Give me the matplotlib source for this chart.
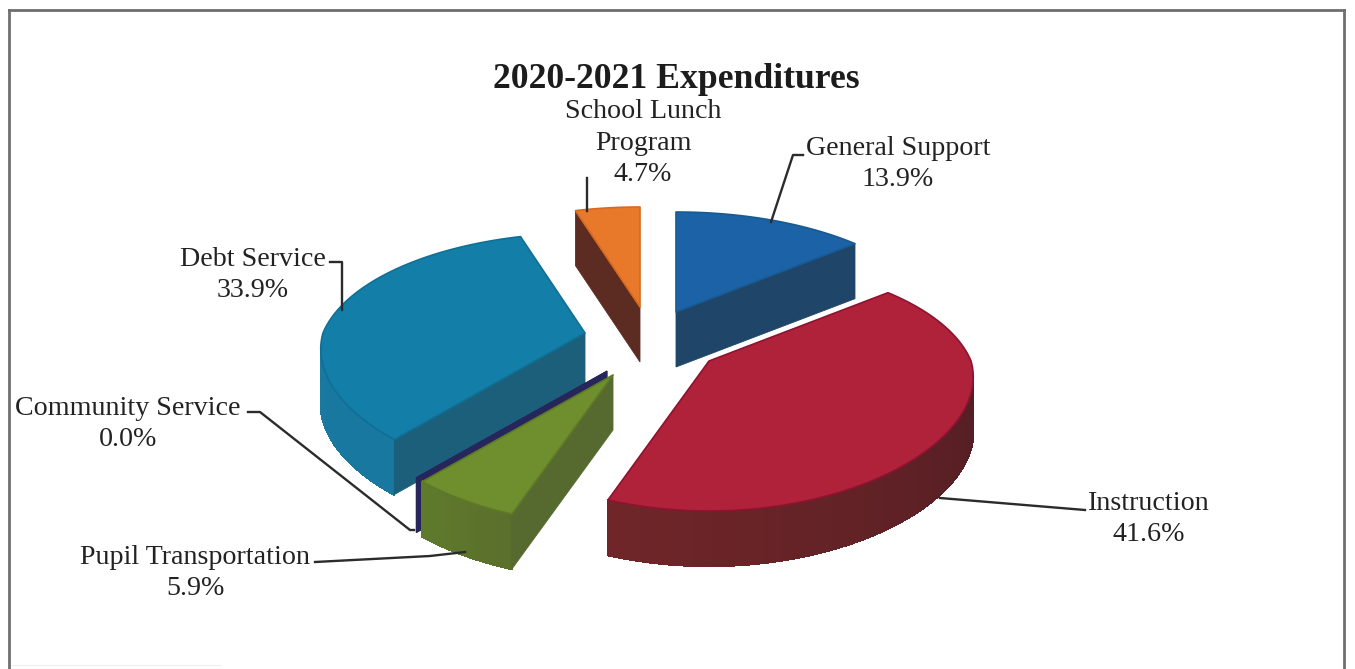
import numpy as np
import matplotlib
matplotlib.use("Agg")
import matplotlib.pyplot as plt

# chart data, clockwise from 12 o'clock
labels = ["General Support", "Instruction", "Pupil Transportation", "Community Service", "Debt Service", "School Lunch\nProgram"]
values = [13.9, 41.6, 5.9, 0.0, 33.9, 4.7]
title = "2020-2021 Expenditures"

# colours: top, radial cut face, rim start, rim end
top_colors = ["#1b63a6", "#b0213a", "#6f8e2d", "#2a2a6a", "#137fa8", "#e8792b"]
edge_colors = ["#175a94", "#8f1230", "#5d7a26", "#20205a", "#0f6f95", "#d8691f"]
cut_colors = ["#1f4568", "#5a2026", "#56692e", "#26265c", "#1b5f7b", "#5c2c22"]
rim_a = ["#1f4568", "#702629", "#5f7a2c", "#26265c", "#1a7a9f", "#5c2c22"]
rim_b = ["#1f4568", "#451a20", "#5a6f2c", "#26265c", "#1878a0", "#5c2c22"]

# layout, in picture pixels
W, H = 1355, 669
center = (640, 340)
explode_dx = [36, 69, -27, -33, -55, 0]
explode_dy = [-28, 21, 35, 31, -7, -33]
R, RK, TILT_BACK, TILT_FRONT, TILT_Y, DEPTH = 262, 120, 0.19, 0.13, 0.2, 55
draw_order = [0, 5, 4, 3, 2, 1]

label_xy = [(898, 164), (1149, 519), (195, 573), (128, 424), (253, 275), (643, 143)]
leaders = [
    [(803, 155), (793, 155), (771, 222)],
    [(1085, 510), (940, 498)],
    [(315, 562), (430, 556), (465, 552)],
    [(248, 412), (260, 412), (410, 530), (414, 530)],
    [(330, 262), (342, 262), (342, 310)],
    [(587, 178), (587, 211)],
]

plt.rcParams["font.family"] = ["Liberation Serif", "DejaVu Serif"]
fig = plt.figure(figsize=(W / 100, H / 100), dpi=100)
ax = fig.add_axes([0, 0, 1, 1])
ax.set_xlim(0, W)
ax.set_ylim(H, 0)
ax.axis("off")


def rim_points(theta, apex):
    # tilted disc with a bit of perspective, theta in radians clockwise from top
    tilt_x = np.where(np.cos(theta) > 0, TILT_BACK, TILT_FRONT)
    x = R * np.sin(theta) / (1 + tilt_x * np.cos(theta))
    y = RK * np.cos(theta) / (1 + TILT_Y * np.cos(theta))
    return apex[0] + x, apex[1] - y


def mix(c1, c2, t):
    a = np.array(matplotlib.colors.to_rgb(c1))
    b = np.array(matplotlib.colors.to_rgb(c2))
    return a + (b - a) * t


def signed_area(xs, ys):
    return 0.5 * np.sum(np.array(xs) * np.roll(ys, -1) - np.roll(xs, -1) * np.array(ys))


def draw_slice(i, start, stop):
    apex = (center[0] + explode_dx[i], center[1] + explode_dy[i])
    n = max(2, int(abs(stop - start) * 0.8) + 2)
    th = np.radians(np.linspace(start, stop, n))
    xs, ys = rim_points(th, apex)
    z = draw_order.index(i) * 3

    # outer wall, only the quads that face us
    for k in range(n - 1):
        qx = [xs[k], xs[k + 1], xs[k + 1], xs[k]]
        qy = [ys[k], ys[k + 1], ys[k + 1] + DEPTH, ys[k] + DEPTH]
        if signed_area(qx, qy) < 0:
            # shade goes from rim_b on the right to rim_a at the slice end
            c = mix(rim_b[i], rim_a[i], k / max(1, n - 2))
            ax.fill(qx, qy, color=c, lw=1.0, antialiased=False, zorder=z + 1)

    # two radial cut faces
    for px, py, sign in [(xs[0], ys[0], 1), (xs[-1], ys[-1], -1)]:
        qx = [apex[0], px, px, apex[0]]
        qy = [apex[1], py, py + DEPTH, apex[1] + DEPTH]
        if sign * signed_area(qx, qy) < 0 or stop == start:
            ax.fill(qx, qy, color=cut_colors[i], lw=0.6, zorder=z + 1)

    if stop > start:
        ax.fill(np.r_[apex[0], xs], np.r_[apex[1], ys], facecolor=top_colors[i],
                edgecolor=edge_colors[i], lw=1.2, joinstyle="round", zorder=z + 2)


angles = np.cumsum([0] + values) * 3.6
for i in range(len(values)):
    draw_slice(i, angles[i], angles[i + 1])

# frame of the scanned box
ax.plot([9, 9], [669, 10], color="#707070", lw=2, zorder=0)
ax.plot([9, 1344], [10, 10], color="#6e6e6e", lw=2, zorder=0)
ax.plot([1344, 1344], [10, 669], color="#6e6e6e", lw=2, zorder=0)
ax.plot([11, 220], [665, 665], color="#efefef", lw=0.8, zorder=0)

for pts in leaders:
    ax.plot(*zip(*pts), color="#2b2b2b", lw=1.7, zorder=30)

for name, val, (x, y) in zip(labels, values, label_xy):
    ax.text(x, y, f"{name}\n{val:.1f}%", ha="center", va="center", fontsize=20.2,
            color="#222222", linespacing=1.35, zorder=31)

ax.text(676, 80, title, ha="center", va="center", fontsize=25.7, fontweight="bold", color="#1c1c1c")

fig.savefig("out.png", dpi=100, facecolor="white")
